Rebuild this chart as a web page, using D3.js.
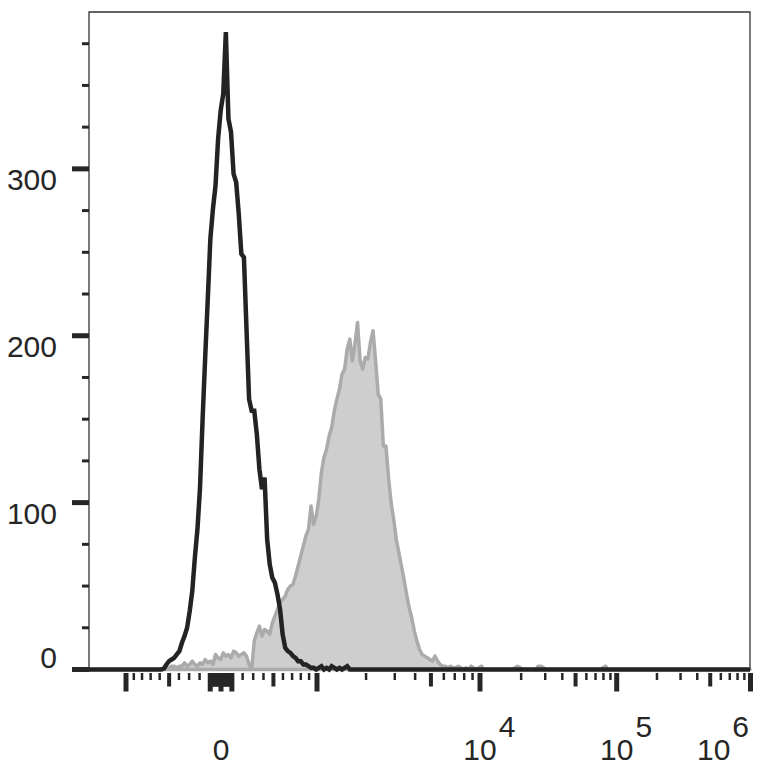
<!DOCTYPE html>
<html>
<head>
<meta charset="utf-8">
<script src="https://cdn.jsdelivr.net/npm/d3@7"></script>
<style>
  html, body { margin: 0; padding: 0; background: #fff; }
  svg { display: block; }
</style>
</head>
<body>
<svg id="chart" width="764" height="773"></svg>
<script>
// ---------------- DATA ----------------
const channelCount = 256;            // histogram channels across the display range

const blackStart = 28;               // first listed channel of the black (control) histogram
const blackCounts = [0,0.5,3,5,6,7,9,11,16,20,
  25,35,47,67,84,109,150,187,222,258,
  276,290,318,335,345,382,330,322,297,292,
  273,249,247,204,162,155,155,141,120,108,
  115,78,63,55,52,45,36,21,13,11,
  10,8,7,5,5,3,3,2,1,1,
  0,1,2,0,1,0,2,1,0,1,
  0,1,2,0];

const grayStart = 28;                // first listed channel of the gray (stained) histogram
const grayCounts = [0,0,1,1,2,2,1,2,2,4,
  2,3,5,3,2,4,3,6,4,5,
  3,9,7,6,10,8,9,7,11,10,
  8,9,10,8,3,0,17,22,26,20,
  24,23,21,28,32,36,40,42,44,48,
  50,51,56,62,68,74,80,84,98,87,
  92,102,118,127,132,140,145,155,162,168,
  177,180,192,198,185,195,208,185,180,187,
  186,196,203,185,165,162,134,134,115,100,
  90,78,70,62,54,45,37,31,23,17,
  12,9,8,7,6,5,8,5,3,2,
  2,1,2,1,1,2,1,0,1,0,
  2,1,0,1,2,0,0,0,0,0,
  0,0,0,0,0,0,0,1,2,1,
  0,0,0,0,0,0,2,2,1,0,
  0,0,0,0,0,0,0,0,0,0,
  0,0,0,0,0,0,0,0,0,0,
  0,1,2,0];

const yMajorTicks = [0, 100, 200, 300];
const yMinorTicks = [25, 50, 75, 125, 150, 175, 225, 250, 275, 325, 350, 375];
const yMax = 394;

const xMajorTicks = [-1000, -100, 0, 100, 1000, 10000, 100000, 1000000];
const xMediumTicks = [-500, -50, 50, 500, 5000, 50000, 500000];
const xZeroBandTicks = [-90,-80,-70,-60,-40,-30,-20,-10,10,20,30,40,60,70,80,90];
const xMinorTicks = [-900,-800,-700,-600,-400,-300,-200,
  200,300,400,600,700,800,900,
  2000,3000,4000,6000,7000,8000,9000,
  20000,30000,40000,60000,70000,80000,90000,
  200000,300000,400000,600000,700000,800000,900000];

const xLabels = [
  {value: 0, base: "0", exp: ""},
  {value: 10000, base: "10", exp: "4"},
  {value: 100000, base: "10", exp: "5"},
  {value: 1000000, base: "10", exp: "6"}
];

// ---------------- LAYOUT ----------------
const plot = {left: 89, right: 750, top: 12, bottom: 669.5};
const decadeStops = [-1, 0, 1, 2, 3, 4];                 // display units (see toT)
const decadePx = [126, 221, 317, 480, 616.7, 750.5];     // axis calibration
const fontSize = 30;
const ink = "#262626";

// value -> display units: arcsinh-linear within ±1000, log decades beyond
function toT(v) {
  const a = Math.abs(v);
  if (a <= 1000) return Math.asinh(v / 1000) / Math.asinh(1);
  return Math.sign(v) * (1 + Math.log10(a / 1000));
}

const svg = d3.select("#chart");

const xChan = d3.scaleLinear().domain([0, channelCount]).range([plot.left, plot.right]);
const xDisp = d3.scaleLinear().domain(decadeStops).range(decadePx);
const xVal = v => xDisp(toT(v));
const y = d3.scaleLinear().domain([0, yMax]).range([plot.bottom, plot.top]);

function series(start, counts) {
  const pts = [[0, 0]];
  counts.forEach((c, i) => pts.push([start + i, c]));
  pts.push([channelCount, 0]);
  return pts;
}

const grayPts = series(grayStart, grayCounts);
const blackPts = series(blackStart, blackCounts);

// gray filled histogram
svg.append("path")
  .datum(grayPts)
  .attr("d", d3.area().x(d => xChan(d[0])).y0(y(0)).y1(d => y(d[1])))
  .attr("fill", "#cecece")
  .attr("stroke", "#ababab")
  .attr("stroke-width", 3.5)
  .attr("stroke-linejoin", "round");

// black line histogram
svg.append("path")
  .datum(blackPts)
  .attr("d", d3.line().x(d => xChan(d[0])).y(d => y(d[1])))
  .attr("fill", "none")
  .attr("stroke", "#232323")
  .attr("stroke-width", 4.5)
  .attr("stroke-linejoin", "miter")
  .attr("stroke-miterlimit", 3);

// frame (left, top, right)
svg.append("path")
  .attr("d", `M${plot.left},${plot.bottom} V${plot.top} H${plot.right} V${plot.bottom}`)
  .attr("fill", "none")
  .attr("stroke", "#333")
  .attr("stroke-width", 1.3);

// Y axis ticks
const gy = svg.append("g");
gy.selectAll("line.ymaj").data(yMajorTicks).join("line")
  .attr("x1", plot.left - 17).attr("x2", plot.left)
  .attr("y1", d => y(d)).attr("y2", d => y(d))
  .attr("stroke", ink).attr("stroke-width", 5);
gy.selectAll("line.ymin").data(yMinorTicks).join("line")
  .attr("class", "ymin")
  .attr("x1", plot.left - 7).attr("x2", plot.left)
  .attr("y1", d => y(d)).attr("y2", d => y(d))
  .attr("stroke", ink).attr("stroke-width", 3);

// Y labels: 0 sits above its tick, others hang below their tick
gy.selectAll("text").data(yMajorTicks).join("text")
  .attr("x", 57)
  .attr("y", d => d === 0 ? y(d) - 1.5 : y(d) + fontSize * 0.716)
  .attr("text-anchor", "end")
  .attr("font-family", "'Liberation Sans', Arial, sans-serif")
  .attr("font-size", fontSize)
  .attr("fill", ink)
  .text(d => d);

// X axis ticks
const tickTop = plot.bottom + 3.5;
const gx = svg.append("g");
function drawTicks(vals, len, w) {
  gx.append("g").selectAll("line").data(vals).join("line")
    .attr("x1", d => xVal(d)).attr("x2", d => xVal(d))
    .attr("y1", tickTop).attr("y2", tickTop + len)
    .attr("stroke", ink).attr("stroke-width", w);
}
drawTicks(xMinorTicks, 7, 2.5);
drawTicks(xZeroBandTicks, 13.5, 2.5);
drawTicks(xMediumTicks, 13.5, 4);
drawTicks(xMajorTicks, 18.5, 5);

// X labels
const digitW = fontSize * 0.556;
xLabels.forEach(l => {
  const cx = xVal(l.value);
  const baseW = l.base.length * digitW;
  const expW = l.exp ? l.exp.length * digitW + 2 : 0;
  let left = cx - baseW / 2;
  if (left + baseW + expW > 749) left = 749 - baseW - expW;
  gx.append("text")
    .attr("x", left).attr("y", 759.5)
    .attr("font-family", "'Liberation Sans', Arial, sans-serif")
    .attr("font-size", fontSize).attr("fill", ink)
    .text(l.base);
  if (l.exp) {
    gx.append("text")
      .attr("x", left + baseW + 2).attr("y", 737)
      .attr("font-family", "'Liberation Sans', Arial, sans-serif")
      .attr("font-size", fontSize).attr("fill", ink)
      .text(l.exp);
  }
});
</script>
</body>
</html>
